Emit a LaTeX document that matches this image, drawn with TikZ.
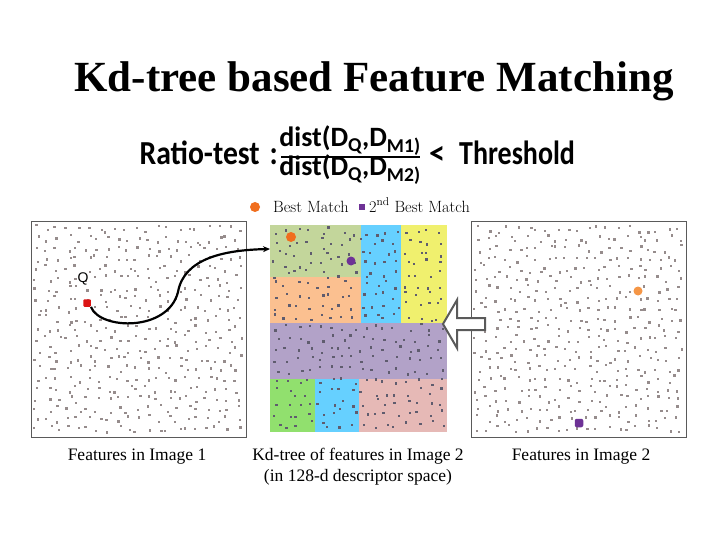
\documentclass[tikz,border=0pt]{standalone}
\usepackage{fontspec}
\setmainfont{Liberation Serif}
\newfontfamily\calib{Carlito}
\newfontfamily\lmr{Latin Modern Roman}
\newfontfamily\arialf{Liberation Sans}
\usetikzlibrary{arrows.meta}
\definecolor{cgreengray}{RGB}{195,214,155}
\definecolor{corange}{RGB}{251,192,144}
\definecolor{ccyan}{RGB}{102,208,255}
\definecolor{cyellow}{RGB}{240,240,110}
\definecolor{cpurple}{RGB}{178,162,200}
\definecolor{cgreen}{RGB}{145,224,110}
\definecolor{cpink}{RGB}{230,185,182}
\definecolor{dotgray}{RGB}{150,140,140}
\definecolor{dotdark}{RGB}{95,92,110}
\definecolor{borderc}{RGB}{90,90,90}
\definecolor{bestc}{RGB}{240,110,30}
\definecolor{bestlightc}{RGB}{245,150,70}
\definecolor{secondc}{RGB}{110,50,150}
\definecolor{qred}{RGB}{220,20,20}
% jittered grid of feature dots: x0, y0, columns-1, rows-1, cell w, cell h, colour
\newcommand\jdots[7]{%
  \foreach \gx in {0,...,#3}{%
    \foreach \gy in {0,...,#4}{%
      \fill[#7] ({#1+\gx*#5+(#5-2.3)*rnd},{#2+\gy*#6+(#6-2.3)*rnd}) rectangle ++(2.3,2.3);
    }}}
\tikzset{
  panel/.style={draw=borderc, line width=1pt, fill=white, minimum width=215pt, minimum height=215pt, inner sep=0pt, outer sep=0pt},
  lbl/.style={font=\fontsize{17.5}{20}\selectfont, inner sep=0pt, align=center},
  legtxt/.style={font=\lmr\fontsize{16.3}{18}\selectfont, inner sep=0pt, anchor=base west},
  formula/.style={font=\calib\bfseries\fontsize{28}{30}\selectfont, inner sep=0pt},
  bestdot/.style={circle, fill=bestc, minimum size=10pt, inner sep=0pt},
  seconddot/.style={circle, fill=secondc, minimum size=9pt, inner sep=0pt},
  matchline/.style={-{Stealth[length=7pt,width=6pt]}, line width=2.2pt, black},
}
\newcommand\tallbox[1]{\scalebox{1}[1.2]{#1}}
\begin{document}
\begin{tikzpicture}[x=1pt,y=-1pt]
\useasboundingbox (0,0) rectangle (720,540);
\fill[white] (0,0) rectangle (720,540);

% title
\node[font=\bfseries\fontsize{43}{46}\selectfont, anchor=base, inner sep=0pt] (title) at (374,92) {Kd-tree based Feature Matching};

% ratio test formula
\node[formula, anchor=base east] (ratio) at (278,165) {\scalebox{1.06}[1.2]{Ratio-test\,\,:}};
\node[formula, anchor=base] (num) at (350,147) {dist(D\textsubscript{Q},D\textsubscript{M1)}};
\node[formula, anchor=base] (den) at (350,176) {dist(D\textsubscript{Q},D\textsubscript{M2)}};
\draw[line width=2pt] (281,157) -- (420,157);
\node[formula, anchor=base west] (lt) at (429,165) {\scalebox{1.15}[1.2]{<}};
\node[formula, anchor=base west] (thr) at (459,165) {\tallbox{Threshold}};

% legend
\node[bestdot] (legbest) at (255,207) {};
\node[legtxt] (legbesttxt) at (273,212) {Best Match};
\node[fill=secondc, minimum size=6pt, inner sep=0pt] (legsecond) at (362,207) {};
\node[legtxt] (legsecondtxt) at (369,212) {2\textsuperscript{nd} Best Match};

% left panel
\node[panel] (img1) at (138.5,329.5) {};
\pgfmathsetseed{4242}
\jdots{33}{224}{20}{20}{10}{10}{dotgray}
\node[font=\arialf\fontsize{14}{16}\selectfont, inner sep=0pt] (qlabel) at (83,279) {Q};
\node[fill=qred, minimum size=7.5pt, inner sep=0pt, rounded corners=1pt] (qdot) at (87,303) {};

% right panel
\node[panel] (img2) at (579,329.5) {};
\jdots{473}{224}{20}{20}{10}{10}{dotgray}
\node[circle, fill=bestlightc, minimum size=9pt, inner sep=0pt] (best2) at (638,291) {};
\node[fill=secondc, minimum size=8.5pt, inner sep=0pt, rounded corners=2pt] (second2) at (579,423) {};

% kd-tree cells
\fill[cgreengray] (270,225) rectangle (361,277);
\fill[corange] (270,277) rectangle (361,323);
\fill[ccyan] (361,225) rectangle (401,323);
\fill[cyellow] (401,225) rectangle (447,323);
\fill[cpurple] (270,323) rectangle (447,379);
\fill[cgreen] (270,379) rectangle (315,432);
\fill[ccyan] (315,379) rectangle (359,432);
\fill[cpink] (359,379) rectangle (447,432);
\jdots{271}{226}{15}{18}{10.9}{10.7}{dotdark}
\node[bestdot] (best1) at (291,237) {};
\node[seconddot] (second1) at (351,261) {};

% match connector
\coordinate (kdin) at (270,249);
\draw[matchline] (qdot.south east) .. controls (100,330) and (168,332) .. (178,292)
   .. controls (184,258) and (225,250) .. (kdin);

% hollow arrow
\coordinate (harrowtip) at (443,324);
\draw[draw=borderc, fill=white, line width=2pt, line join=miter]
  (harrowtip) -- (457,300) -- (457,318) -- (485,318) -- (485,330) -- (457,330) -- (457,348) -- cycle;

% labels
\node[lbl, anchor=base] (lab1) at (137,460) {Features in Image 1};
\node[lbl, anchor=base] (lab2) at (358,460) {Kd-tree of features in Image 2};
\node[lbl, anchor=base] (lab2b) at (358,481) {(in 128-d descriptor space)};
\node[lbl, anchor=base] (lab3) at (581,460) {Features in Image 2};
\end{tikzpicture}
\end{document}
